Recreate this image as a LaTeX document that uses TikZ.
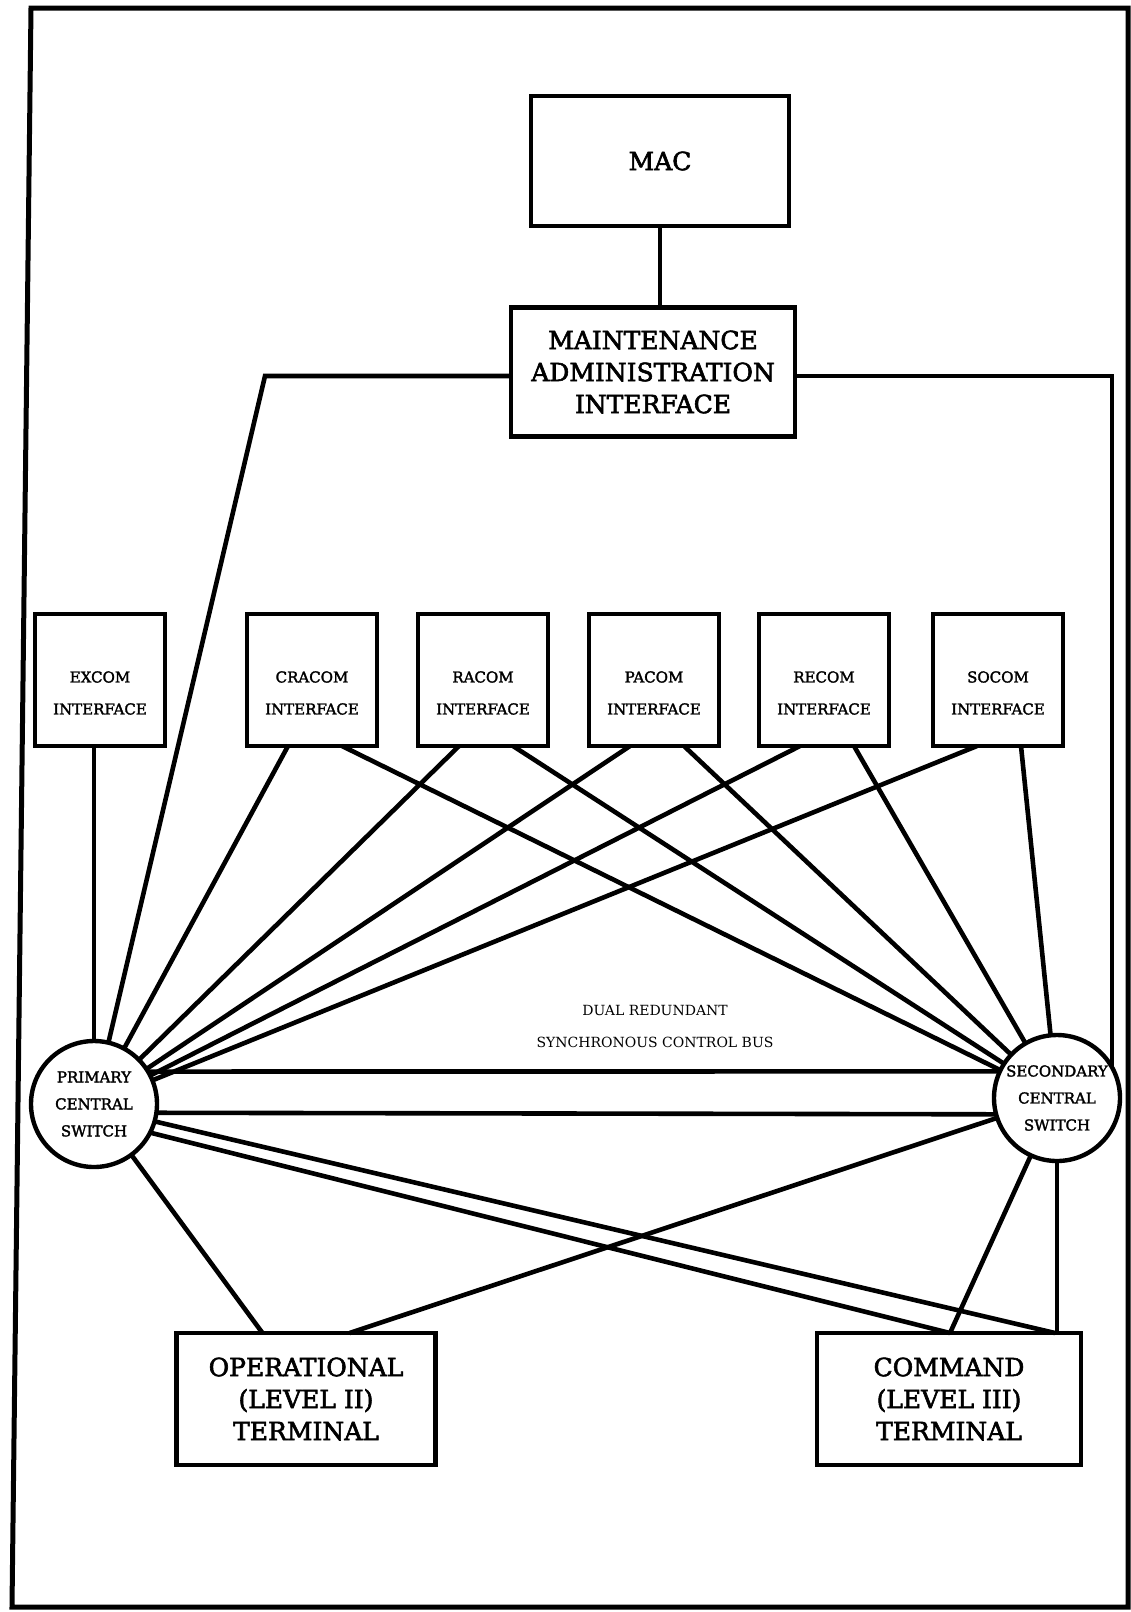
\documentclass[tikz,border=0pt]{standalone}
\usepackage{fontspec}
\setmainfont{DejaVu Serif}
\newfontfamily\hvy{DejaVu Serif}[FakeBold=2.4]
\newfontfamily\hvys{DejaVu Serif}[FakeBold=2]
\usetikzlibrary{calc}
\begin{document}
\begin{tikzpicture}[x=1pt,y=-1pt,
  ln/.style={line width=4.6pt},
  bigbox/.style={draw,line width=4.4pt,inner sep=0pt,outer sep=0pt,align=center,font=\hvy\fontsize{25}{32}\selectfont},
  ifbox/.style={draw,line width=4.4pt,inner sep=0pt,outer sep=0pt,minimum width=130pt,minimum height=132pt},
  iftext/.style={align=center,inner sep=0pt,font=\hvys\fontsize{15}{32}\selectfont},
  sw/.style={circle,draw,line width=4.4pt,minimum size=126pt,inner sep=0pt,outer sep=0pt,align=center,font=\hvys\fontsize{15}{27}\selectfont}]
\useasboundingbox (0,0) rectangle (1131,1612);
\fill[white] (0,0) rectangle (1131,1612);
\draw[line width=5pt,line join=miter] (31,8) -- (1128,8) -- (1128,1607) -- (12,1607) -- cycle;

% nodes
\node[bigbox,minimum width=258pt,minimum height=130pt] (mac) at (660,161) {MAC};
\node[bigbox,minimum width=284pt,minimum height=129pt] (mai) at (653,372) {MAINTENANCE\\ADMINISTRATION\\INTERFACE};

\node[ifbox] (exc) at (100,680) {};
\node[iftext] (exct) at ($(exc)+(0,13)$) {EXCOM\\INTERFACE};
\node[ifbox] (cra) at (312,680) {};
\node[iftext] (crat) at ($(cra)+(0,13)$) {CRACOM\\INTERFACE};
\node[ifbox] (rac) at (483,680) {};
\node[iftext] (ract) at ($(rac)+(0,13)$) {RACOM\\INTERFACE};
\node[ifbox] (pac) at (654,680) {};
\node[iftext] (pact) at ($(pac)+(0,13)$) {PACOM\\INTERFACE};
\node[ifbox] (rec) at (824,680) {};
\node[iftext] (rect) at ($(rec)+(0,13)$) {RECOM\\INTERFACE};
\node[ifbox] (soc) at (998,680) {};
\node[iftext] (soct) at ($(soc)+(0,13)$) {SOCOM\\INTERFACE};

\node[sw] (pri) at (94,1104) {PRIMARY\\CENTRAL\\SWITCH};
\node[sw] (sec) at (1057,1098) {SECONDARY\\CENTRAL\\SWITCH};

\node[align=center,inner sep=0pt,font=\fontsize{14}{32}\selectfont] (bus) at (655,1026) {DUAL REDUNDANT\\SYNCHRONOUS CONTROL BUS};

\node[bigbox,minimum width=259pt,minimum height=132pt] (ope) at (306,1399) {OPERATIONAL\\(LEVEL II)\\TERMINAL};
\node[bigbox,minimum width=264pt,minimum height=132pt] (com) at (949,1399) {COMMAND\\(LEVEL III)\\TERMINAL};

% connectors
\coordinate (cL) at (265,376);
\draw[ln] (mac.south) -- (mac.south |- mai.north);
\draw[ln,line join=miter] (mai.west |- cL) -- (cL) -- (pri);
\draw[ln,line join=miter] (mai.east |- cL) -- (cL -| sec.29) -- (sec.29);
\draw[ln] (pri.north |- exc.south) -- (pri.north);
\foreach \n in {cra,rac,pac,rec}{
  \draw[ln] ([xshift=41pt]\n.south west) -- (pri);
  \draw[ln] ([xshift=95pt]\n.south west) -- (sec);
}
\draw[ln] ([xshift=44pt]soc.south west) -- (pri);
\draw[ln] ([xshift=88pt]soc.south west) -- (sec);

\draw[ln] (pri.31) -- (sec.155);
\draw[ln] (pri.-8) -- (sec.195);

\draw[ln] (pri) -- ([xshift=86pt]ope.north west);
\draw[ln] (sec) -- ([xshift=173pt]ope.north west);
\draw[ln] (pri.-27) -- ([xshift=133pt]com.north west);
\draw[ln] (pri.-16) -- ([xshift=-26pt]com.north east);
\draw[ln] (sec) -- ([xshift=133pt]com.north west);
\draw[ln] (sec.south) -- (sec.south |- com.north);
\end{tikzpicture}
\end{document}
